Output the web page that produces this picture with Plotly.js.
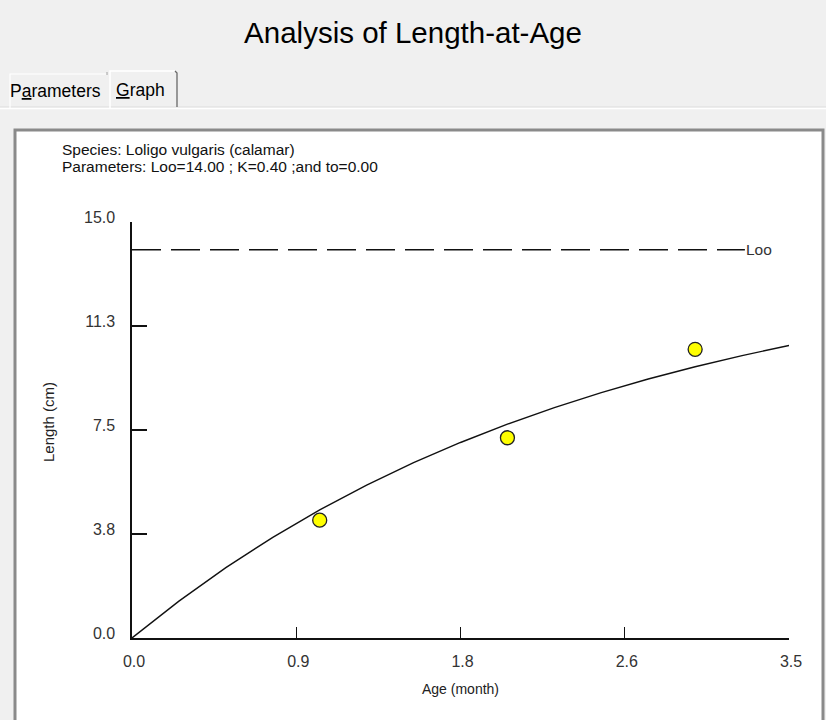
<!DOCTYPE html>
<html>
<head>
<meta charset="utf-8">
<script src="https://cdn.plot.ly/plotly-3.0.1.min.js"></script>
<style>
  html, body { margin: 0; padding: 0; background: #f0f0f0; }
  #chart { width: 826px; height: 720px; }
</style>
</head>
<body>
<div id="chart"></div>
<script>
// ---- Data ----
var ageObs = [1.0, 2.0, 3.0];
var lengthObs = [4.25, 7.22, 10.41];

var ageCurve = [0, 0.25, 0.5, 0.75, 1.0, 1.25, 1.5, 1.75, 2.0, 2.25, 2.5, 2.75, 3.0, 3.25, 3.5];
var lengthCurve = [0, 1.33, 2.54, 3.63, 4.62, 5.51, 6.32, 7.05, 7.71, 8.31, 8.85, 9.34, 9.78, 10.18, 10.55];

var looX = [0, 3.265];
var looY = [14, 14];

var xTickVals = [0, 0.875, 1.75, 2.625, 3.5];
var xTickText = ['0.0', '0.9', '1.8', '2.6', '3.5'];
var yTickVals = [0, 3.75, 7.5, 11.25, 15];
var yTickText = ['0.0', '3.8', '7.5', '11.3', '15.0'];

var titleText = 'Analysis of Length-at-Age';
var speciesText = 'Species: Loligo vulgaris (calamar)';
var paramsText = 'Parameters: Loo=14.00 ; K=0.40 ;and to=0.00';

// ---- Layout geometry (pixels) ----
var W = 826, H = 720;
var L = 132, R = 789, T = 222, B = 638;
function px(x) { return (x - L) / (R - L); }
function py(y) { return (B - y) / (B - T); }

var FONT = 'Liberation Sans, Arial, sans-serif';

var traces = [
  {
    x: looX, y: looY, mode: 'lines', type: 'scatter',
    line: { color: '#111', width: 1.5, dash: '29px,10px' },
    hoverinfo: 'skip', showlegend: false
  },
  {
    x: ageCurve, y: lengthCurve, mode: 'lines', type: 'scatter',
    line: { color: '#111', width: 1.4 },
    showlegend: false
  },
  {
    x: ageObs, y: lengthObs, mode: 'markers', type: 'scatter',
    marker: { size: 14, color: '#ffff00', line: { color: '#222', width: 1.3 } },
    showlegend: false, cliponaxis: false
  }
];

var shapes = [
  // white panel with sunken border
  { type: 'rect', xref: 'paper', yref: 'paper', layer: 'below',
    x0: px(15), x1: px(823), y0: py(735), y1: py(130),
    fillcolor: '#ffffff', line: { color: '#8a8a8a', width: 3 } },
  // tab strip separator
  { type: 'line', xref: 'paper', yref: 'paper', layer: 'below',
    x0: px(0), x1: px(826), y0: py(107), y1: py(107),
    line: { color: '#dcdcdc', width: 1 } },
  { type: 'line', xref: 'paper', yref: 'paper', layer: 'below',
    x0: px(0), x1: px(826), y0: py(108.5), y1: py(108.5),
    line: { color: '#ffffff', width: 1.5 } },
  // Parameters tab
  { type: 'path', xref: 'paper', yref: 'paper', layer: 'below',
    path: 'M ' + px(10) + ',' + py(108) + ' L ' + px(10) + ',' + py(74) +
          ' L ' + px(107) + ',' + py(74),
    line: { color: '#ffffff', width: 1.2 } },
  { type: 'line', xref: 'paper', yref: 'paper', layer: 'below',
    x0: px(107), x1: px(107), y0: py(72), y1: py(75),
    line: { color: '#a0a0a0', width: 1 } },
  // Graph tab (selected)
  { type: 'path', xref: 'paper', yref: 'paper', layer: 'below',
    path: 'M ' + px(110) + ',' + py(109) + ' L ' + px(110) + ',' + py(71) +
          ' L ' + px(175) + ',' + py(71),
    line: { color: '#ffffff', width: 1.5 } },
  { type: 'path', xref: 'paper', yref: 'paper', layer: 'below',
    path: 'M ' + px(175) + ',' + py(71) + ' L ' + px(177) + ',' + py(73) +
          ' L ' + px(177) + ',' + py(107),
    line: { color: '#696969', width: 1.3 } }
];

var annotations = [
  { xref: 'paper', yref: 'paper', x: px(8), y: py(91), xanchor: 'left', yanchor: 'middle',
    text: 'P<span style="text-decoration:underline">a</span>rameters', showarrow: false,
    font: { family: FONT, size: 17.5, color: '#000' } },
  { xref: 'paper', yref: 'paper', x: px(114), y: py(90), xanchor: 'left', yanchor: 'middle',
    text: '<span style="text-decoration:underline">G</span>raph', showarrow: false,
    font: { family: FONT, size: 17.5, color: '#000' } },
  { xref: 'paper', yref: 'paper', x: px(60), y: py(150), xanchor: 'left', yanchor: 'middle',
    text: speciesText, showarrow: false,
    font: { family: FONT, size: 15.5, color: '#111' } },
  { xref: 'paper', yref: 'paper', x: px(60), y: py(166), xanchor: 'left', yanchor: 'middle',
    text: paramsText, showarrow: false,
    font: { family: FONT, size: 15.5, color: '#111' } },
  { xref: 'x', yref: 'y', x: looX[1], y: looY[1], xanchor: 'left', yanchor: 'middle',
    xshift: -1, text: 'Loo', showarrow: false,
    font: { family: FONT, size: 15.5, color: '#333' } },
  { xref: 'paper', yref: 'paper', x: px(48), y: py(422), xanchor: 'center', yanchor: 'middle',
    textangle: -90, text: 'Length (cm)', showarrow: false,
    font: { family: FONT, size: 15, color: '#222' } }
];

var layout = {
  width: W, height: H,
  paper_bgcolor: '#f0f0f0',
  plot_bgcolor: 'rgba(0,0,0,0)',
  margin: { l: L, r: W - R, t: T, b: H - B, pad: 0 },
  title: {
    text: titleText, x: 0.5, xanchor: 'center', xref: 'container',
    y: 1 - 33 / H, yanchor: 'middle', yref: 'container',
    font: { family: FONT, size: 29.5, color: '#000' }
  },
  xaxis: {
    range: [0, 3.5], fixedrange: true,
    showgrid: false, zeroline: false,
    showline: true, linecolor: '#111', linewidth: 1.6,
    ticks: 'inside', ticklen: 11, tickwidth: 1.4, tickcolor: '#111',
    tickmode: 'array', tickvals: xTickVals, ticktext: xTickText,
    ticklabelstandoff: 8, ticklabelshift: 2,
    tickfont: { family: FONT, size: 16, color: '#333' },
    title: { text: 'Age (month)', standoff: 15,
             font: { family: FONT, size: 14, color: '#222' } }
  },
  yaxis: {
    range: [0, 15], fixedrange: true,
    showgrid: false, zeroline: false,
    showline: true, linecolor: '#111', linewidth: 1.6,
    ticks: 'inside', ticklen: 15, tickwidth: 1.4, tickcolor: '#111',
    tickmode: 'array', tickvals: yTickVals, ticktext: yTickText,
    ticklabelstandoff: 12, ticklabelshift: -5,
    tickfont: { family: FONT, size: 16, color: '#333' }
  },
  shapes: shapes,
  annotations: annotations,
  showlegend: false
};

Plotly.newPlot('chart', traces, layout, { displayModeBar: false, staticPlot: true });
</script>
</body>
</html>
